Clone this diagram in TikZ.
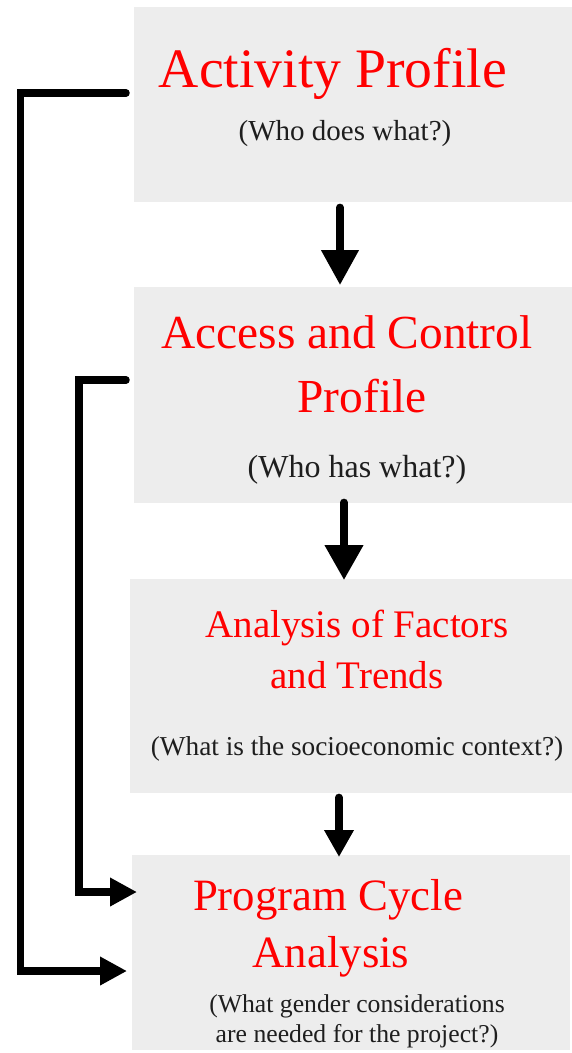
\documentclass[tikz,border=0pt]{standalone}
\usepackage{fontspec}
\setmainfont{Liberation Serif}
\usetikzlibrary{arrows.meta}
\definecolor{boxgray}{HTML}{EDEDED}
\definecolor{titlered}{HTML}{FF0000}
\definecolor{subink}{HTML}{1E1E1E}

\begin{document}
\begin{tikzpicture}[x=1pt,y=-1pt,
  panel/.style={fill=boxgray, draw=none, inner sep=0, anchor=north west},
  title/.style={text=titlered, inner sep=0, anchor=base},
  sub/.style={text=subink, inner sep=0, anchor=base},
  conn/.style={line width=7.5pt, line cap=round, line join=miter},
  headA/.style={-{Triangle[width=36pt,length=35pt]}},
  headB/.style={-{Triangle[width=37pt,length=35pt]}},
  headC/.style={-{Triangle[width=28pt,length=27pt]}},
  headS/.style={-{Triangle[width=27pt,length=27pt]}},
]
\useasboundingbox (0,0) rectangle (572,1053);

% grey panels
\node[panel, minimum width=438pt, minimum height=195pt] (b1) at (134,7) {};
\node[panel, minimum width=438pt, minimum height=216pt] (b2) at (134,287) {};
\node[panel, minimum width=442pt, minimum height=214pt] (b3) at (130,579) {};
\node[panel, minimum width=438pt, minimum height=195pt] (b4) at (132,855) {};

% panel texts
\node[title, font=\fontsize{55.7}{60}\selectfont] (t1) at (333,87) {Activity Profile};
\node[sub, font=\fontsize{29}{32}\selectfont] (s1) at (345,140) {(Who does what?)};

\node[title, font=\fontsize{47.4}{52}\selectfont] (t2a) at (347,348) {Access and Control};
\node[title, font=\fontsize{47.4}{52}\selectfont] (t2b) at (362,412) {Profile};
\node[sub, font=\fontsize{32}{35}\selectfont] (s2) at (357,477) {(Who has what?)};

\node[title, font=\fontsize{39}{43}\selectfont] (t3a) at (357,637) {Analysis of Factors};
\node[title, font=\fontsize{39}{43}\selectfont] (t3b) at (357,688) {and Trends};
\node[sub, font=\fontsize{27.3}{30}\selectfont] (s3) at (357,755) {(What is the socioeconomic context?)};

\node[title, font=\fontsize{44.8}{49}\selectfont] (t4a) at (328,910) {Program Cycle};
\node[title, font=\fontsize{44.8}{49}\selectfont] (t4b) at (331,967) {Analysis};
\node[sub, font=\fontsize{25.7}{28}\selectfont] (s4a) at (357,1012) {(What gender considerations};
\node[sub, font=\fontsize{25.7}{28}\selectfont] (s4b) at (357,1042) {are needed for the project?)};

% vertical flow arrows
\coordinate (xa) at (340,0);
\coordinate (xb) at (344,0);
\coordinate (xc) at (339,0);
\draw[conn, headA, shorten <=5pt, shorten >=2pt] (b1.south -| xa) -- (b2.north -| xa);
\draw[conn, headB, shorten <=-1pt, shorten >=-1pt] (b2.south -| xb) -- (b3.north -| xb);
\draw[conn, headC, shorten <=4pt, shorten >=-2pt] (b3.south -| xc) -- (b4.north -| xc);

% feedback lines into the last panel
\coordinate (yo1) at (0,93);
\coordinate (yo2) at (0,971);
\coordinate (yi1) at (0,380);
\coordinate (yi2) at (0,892);
\draw[conn, headS] ([xshift=-8pt]b1.west |- yo1) -| (20.5,971) -- ([xshift=-5pt]b4.west |- yo2);
\draw[conn, headS] ([xshift=-8pt]b2.west |- yi1) -| (79,892) -- ([xshift=5pt]b4.west |- yi2);
\end{tikzpicture}
\end{document}
